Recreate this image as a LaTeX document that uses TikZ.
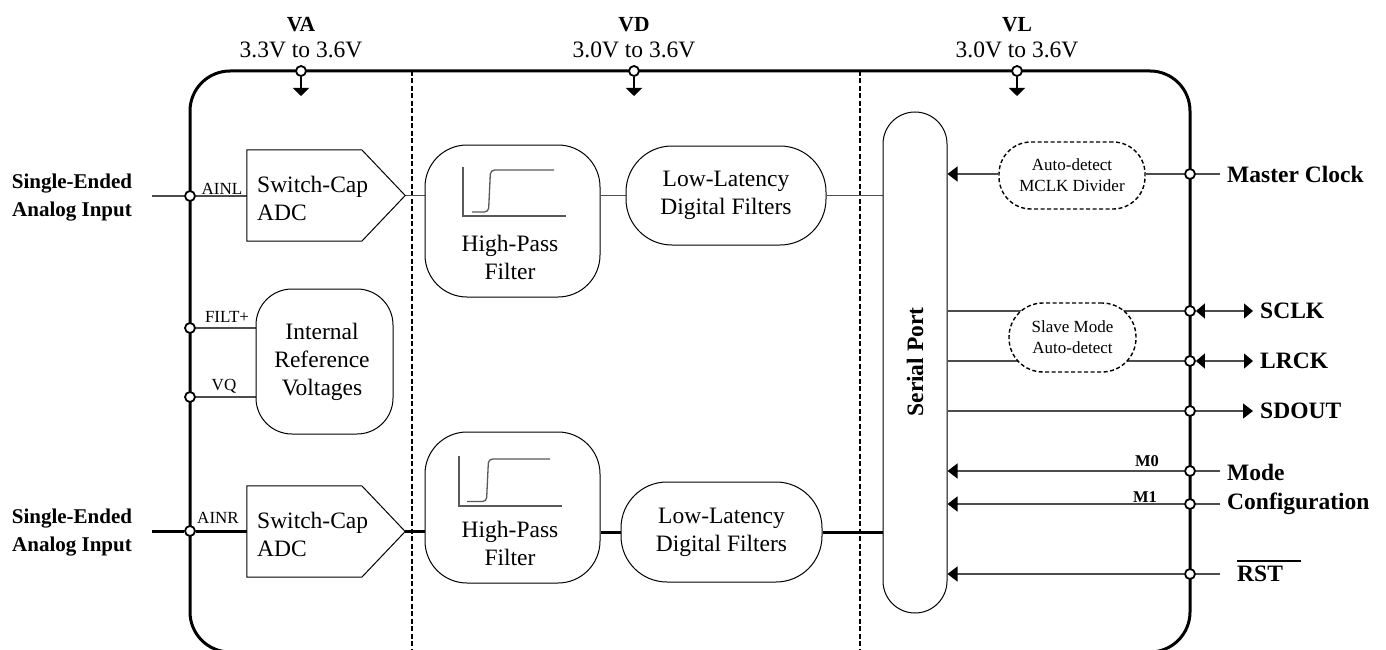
\documentclass[tikz,border=0pt]{standalone}
\usepackage{fontspec}
\setmainfont{Liberation Serif}
\usetikzlibrary{arrows.meta,calc}
\pgfdeclarelayer{bg}
\pgfsetlayers{bg,main}
\begin{document}
\begin{tikzpicture}[x=1pt,y=-1pt,
 txtreg/.style={font=\fontsize{23.5}{28}\selectfont, inner sep=0, align=center},
 txtbold/.style={font=\bfseries\fontsize{23.5}{29}\selectfont, inner sep=0, align=left},
 txtleft/.style={font=\bfseries\fontsize{21}{28}\selectfont, inner sep=0, align=center},
 txtsupply/.style={font=\bfseries\fontsize{21.5}{26}\selectfont, inner sep=0},
 txtsmall/.style={font=\fontsize{17}{21}\selectfont, inner sep=0, align=center},
 txtsmallb/.style={font=\bfseries\fontsize{16.5}{20}\selectfont, inner sep=0},
 pinc/.style={circle, draw, fill=white, line width=1.8pt, minimum size=10pt, inner sep=0},
 blk/.style={draw, line width=1pt, fill=white, inner sep=0},
 dashblk/.style={draw, dash pattern=on 4pt off 2.5pt, line width=1.4pt, fill=white, inner sep=0},
 wire/.style={draw=black!70, line width=1.3pt},
 thickwire/.style={draw=black, line width=3pt},
 tri/.style={-{Triangle[width=15pt,length=10pt,color=black]}},
 dtri/.style={{Triangle[width=15pt,length=9pt,color=black]}-{Triangle[width=15pt,length=9pt,color=black]}},
 gnd/.style={-{Triangle[width=16pt,length=8pt]}},
 divider/.style={line width=1.5pt, dash pattern=on 5pt off 2.5pt},
 graphline/.style={draw=black!65, line width=1.3pt}
]
\useasboundingbox (0,0) rectangle (1386,650);

% supply pins and labels
\node[pinc] (vapin) at (301,71) {};
\node[pinc] (vdpin) at (634,71) {};
\node[pinc] (vlpin) at (1017,71) {};
\coordinate (vagnd) at (301,96);
\coordinate (vdgnd) at (634,96);
\coordinate (vlgnd) at (1017,96);
\node[txtsupply] (va) at (301,25) {VA};
\node[txtreg] (vaval) at (301,50) {3.3V to 3.6V};
\node[txtsupply] (vd) at (634,25) {VD};
\node[txtreg] (vdval) at (634,50) {3.0V to 3.6V};
\node[txtsupply] (vl) at (1017,25) {VL};
\node[txtreg] (vlval) at (1017,50) {3.0V to 3.6V};

% left pins
\node[pinc] (ainl) at (190,196) {};
\node[pinc] (filt) at (190,328) {};
\node[pinc] (vq) at (190,397) {};
\node[pinc] (ainr) at (190,531) {};
\coordinate (ainlin) at (152,196);
\coordinate (ainrin) at (152,531);
\node[txtsmall] (ainllbl) at (222,189) {AINL};
\node[txtsmall] (ainrlbl) at (218,518) {AINR};
\node[txtsmall] (filtlbl) at (227,317) {FILT+};
\node[txtsmall] (vqlbl) at (224,386) {VQ};
\node[txtleft] (inl) at (72,198) {Single-Ended\\Analog Input};
\node[txtleft] (inr) at (72,533) {Single-Ended\\Analog Input};

% ADCs
\node[inner sep=0, minimum width=158pt, minimum height=91pt] (adc1) at (326,195.5) {};
\draw[line width=1pt, fill=white] (adc1.north west) -- ($(adc1.north west)+(115,0)$) -- (adc1.east) -- ($(adc1.south west)+(115,0)$) -- (adc1.south west) -- cycle;
\node[txtreg, align=left, anchor=west] (adc1t) at (257,198) {Switch-Cap\\ADC};
\node[inner sep=0, minimum width=158pt, minimum height=91pt] (adc2) at (326,531.5) {};
\draw[line width=1pt, fill=white] (adc2.north west) -- ($(adc2.north west)+(115,0)$) -- (adc2.east) -- ($(adc2.south west)+(115,0)$) -- (adc2.south west) -- cycle;
\node[txtreg, align=left, anchor=west] (adc2t) at (257,534) {Switch-Cap\\ADC};

% internal reference
\node[blk, rounded corners=36pt, minimum width=137pt, minimum height=145pt] (irv) at (324.5,361.5) {};
\node[txtreg] (irvt) at (322,362) {Internal\\Reference\\Voltages};

% high-pass filters
\node[blk, rounded corners=42pt, minimum width=175pt, minimum height=152pt] (hpf1) at (512.5,221) {};
\draw[graphline] ($(hpf1.center)+(-49.5,-54)$) -- ($(hpf1.center)+(-49.5,-5)$) -- ($(hpf1.center)+(53.5,-5)$);
\draw[graphline, rounded corners=4pt] ($(hpf1.center)+(-40.5,-9)$) -- ($(hpf1.center)+(-24,-9)$) -- ($(hpf1.center)+(-22,-51)$) -- ($(hpf1.center)+(41.5,-51)$);
\node[txtreg] (hpf1t) at (510,257) {High-Pass\\Filter};

\node[blk, rounded corners=42pt, minimum width=175pt, minimum height=151pt] (hpf2) at (512.5,507.5) {};
\draw[graphline] ($(hpf2.center)+(-53.5,-51.5)$) -- ($(hpf2.center)+(-53.5,-1.5)$) -- ($(hpf2.center)+(49.5,-1.5)$);
\draw[graphline, rounded corners=4pt] ($(hpf2.center)+(-45.5,-6)$) -- ($(hpf2.center)+(-26,-6)$) -- ($(hpf2.center)+(-24,-48.5)$) -- ($(hpf2.center)+(37.5,-48.5)$);
\node[txtreg] (hpf2t) at (510,543) {High-Pass\\Filter};

% low-latency filters
\node[blk, txtreg, rounded corners=46pt, minimum width=200pt, minimum height=99pt] (lldf1) at (726,195.5) {Low-Latency\\Digital Filters};
\node[blk, txtreg, rounded corners=46pt, minimum width=201pt, minimum height=100pt] (lldf2) at (721.5,532) {Low-Latency\\Digital Filters};

% serial port
\node[blk, rounded corners=32pt, minimum width=64pt, minimum height=501pt] (sp) at (915,362.5) {};
\node[txtbold, rotate=90] (spt) at (915,362) {Serial Port};

% dashed blocks
\node[dashblk, txtsmall, rounded corners=32pt, minimum width=146pt, minimum height=67pt] (mclk) at (1072,175.5) {Auto-detect\\MCLK Divider};
\node[dashblk, txtsmall, rounded corners=34pt, minimum width=127pt, minimum height=69pt] (slave) at (1072.5,337.5) {Slave Mode\\Auto-detect};

% right pins
\node[pinc] (mc) at (1190,174) {};
\node[pinc] (sclk) at (1190,311) {};
\node[pinc] (lrck) at (1190,361) {};
\node[pinc] (sdout) at (1190,411) {};
\node[pinc] (m0) at (1190,471) {};
\node[pinc] (m1) at (1190,504) {};
\node[pinc] (rst) at (1190,574) {};
\coordinate (mcend) at (1220,174);
\coordinate (sclkend) at (1253,311);
\coordinate (lrckend) at (1253,361);
\coordinate (sdoutend) at (1253,411);
\coordinate (m0end) at (1220,471);
\coordinate (m1end) at (1220,504);
\coordinate (rstend) at (1220,574);
\node[txtbold, anchor=west] (mclbl) at (1227,174) {Master Clock};
\node[txtbold, anchor=west] (sclklbl) at (1260,311) {SCLK};
\node[txtbold, anchor=west] (lrcklbl) at (1260,361) {LRCK};
\node[txtbold, anchor=west] (sdoutlbl) at (1260,411) {SDOUT};
\node[txtbold, anchor=west] (modelbl) at (1227,489) {Mode\\Configuration};
\node[txtbold, anchor=west] (rstlbl) at (1237,574) {RST};
\draw[line width=1.2pt] ($(rstlbl.north west)+(0,-5)$) -- ++(64,0);
\node[txtsmallb] (m0lbl) at (1147,461) {M0};
\node[txtsmallb] (m1lbl) at (1145,497) {M1};

\begin{pgfonlayer}{bg}
\draw[line width=3pt, rounded corners=40pt] (190,71) rectangle (1190,652);
\draw[divider] (412,71) -- (412,652);
\draw[divider] (860,71) -- (860,652);
\draw[line width=1.3pt, gnd] (vapin) -- (vagnd);
\draw[line width=1.3pt, gnd] (vdpin) -- (vdgnd);
\draw[line width=1.3pt, gnd] (vlpin) -- (vlgnd);
% top channel
\draw[wire] (ainlin) -- (ainl) -- (ainl -| adc1.west);
\draw[wire] (adc1.east) -- (adc1.east -| hpf1.west);
\draw[wire] (lldf1.west -| hpf1.east) -- (lldf1.west);
\draw[wire] (lldf1.east) -- (lldf1.east -| sp.west);
% bottom channel
\draw[thickwire] (ainrin) -- (ainr) -- (ainr -| adc2.west);
\draw[thickwire] (adc2.east) -- (adc2.east -| hpf2.west);
\draw[thickwire] (lldf2.west -| hpf2.east) -- (lldf2.west);
\draw[thickwire] (lldf2.east) -- (lldf2.east -| sp.west);
% reference
\draw[wire] (filt) -- (filt -| irv.west);
\draw[wire] (vq) -- (vq -| irv.west);
% right side
\draw[wire] (mcend) -- (mc) -- (mc -| mclk.east);
\draw[wire, tri] (mc -| mclk.west) -- (mc -| sp.east);
\draw[wire] (sclk -| sp.east) -- (sclk);
\draw[wire, dtri] (sclk.east) -- (sclkend);
\draw[wire] (lrck -| sp.east) -- (lrck);
\draw[wire, dtri] (lrck.east) -- (lrckend);
\draw[wire] (sdout -| sp.east) -- (sdout);
\draw[wire, tri] (sdout.east) -- (sdoutend);
\draw[wire] (m0end) -- (m0);
\draw[wire, tri] (m0.west) -- (m0 -| sp.east);
\draw[wire] (m1end) -- (m1);
\draw[wire, tri] (m1.west) -- (m1 -| sp.east);
\draw[wire] (rstend) -- (rst);
\draw[wire, tri] (rst.west) -- (rst -| sp.east);
\end{pgfonlayer}
\end{tikzpicture}
\end{document}
